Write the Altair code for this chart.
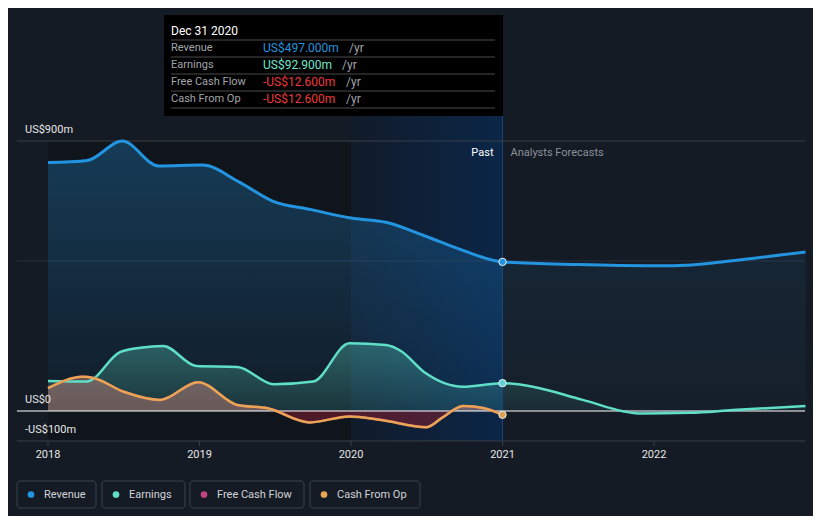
import altair as alt
import pandas as pd

# ---------------- data ----------------
rev_past_t = [2018.0, 2018.26, 2018.49, 2018.73, 2019.02, 2019.26, 2019.49, 2019.73, 2020.0, 2020.23, 2020.48, 2020.73, 2021.0]
rev_past_v = [828, 835, 900, 817, 820, 764, 698, 672, 643, 629, 585, 537, 497]
rev_fc_t = [2021.0, 2021.5, 2022.0, 2022.25, 2022.5, 2023.0]
rev_fc_v = [497, 488, 484, 487, 500, 530]

earn_past_t = [2018.0, 2018.255, 2018.475, 2018.61, 2018.76, 2018.98, 2019.25, 2019.49, 2019.75, 2019.99, 2020.23, 2020.33, 2020.48, 2020.74, 2021.0]
earn_past_v = [100, 98, 196, 211, 217, 150, 147, 89, 98, 226, 220, 200, 131, 81, 92.9]
earn_fc_t = [2021.0, 2021.2, 2021.53, 2021.9, 2022.24, 2022.52, 2023.0]
earn_fc_v = [92.9, 81, 37, -8, -6, 3, 17]

cash_t = [2018.0, 2018.23, 2018.3, 2018.5, 2018.74, 2018.99, 2019.25, 2019.45, 2019.73, 2019.99, 2020.2, 2020.5, 2020.6, 2020.74, 2020.88, 2021.0]
cfo_v = [76, 114, 110, 64, 37, 96, 20, 9, -38, -18, -30, -54, -23, 17, 9, -12.6]
fcf_v = [76, 114, 110, 64, 37, 96, 20, 9, -38, -18, -30, -54, -23, 17, 9, -12.6]

years = [2018, 2019, 2020, 2021, 2022]
y_labels = ["US$900m", "US$0", "-US$100m"]
y_label_vals = [900, 0, -100]

tip_title = "Dec 31 2020"
tip_names = ["Revenue", "Earnings", "Free Cash Flow", "Cash From Op"]
tip_values = ["US$497.000m", "US$92.900m", "-US$12.600m", "-US$12.600m"]
legend_names = ["Revenue", "Earnings", "Free Cash Flow", "Cash From Op"]

# ---------------- styles ----------------
BG = "#151b24"
REV = "#2394df"
EARN = "#5fdfc7"
FCF = "#c4427f"
CFO = "#e8a652"
FONT = "Roboto"

xs = alt.Scale(domain=[2017.736, 2023.0495], nice=False, zero=False)
ys = alt.Scale(domain=[-350, 1343.33], nice=False, zero=False)


def X(f="t"):
    return alt.X(f + ":Q", scale=xs, axis=None)


def Y(f="v"):
    return alt.Y(f + ":Q", scale=ys, axis=None)


def grad(c0, c1):
    return alt.Gradient(gradient="linear",
                        stops=[alt.GradientStop(color=c0, offset=0),
                               alt.GradientStop(color=c1, offset=1)],
                        x1=0, x2=0, y1=0, y2=1)


rev_past = pd.DataFrame({"t": rev_past_t, "v": rev_past_v})
rev_fc = pd.DataFrame({"t": rev_fc_t, "v": rev_fc_v})
rev_all = pd.concat([rev_past, rev_fc.iloc[1:]])
earn_past = pd.DataFrame({"t": earn_past_t, "v": earn_past_v})
earn_fc = pd.DataFrame({"t": earn_fc_t, "v": earn_fc_v})
earn_all = pd.concat([earn_past, earn_fc.iloc[1:]])
cash = pd.DataFrame({"t": cash_t, "cfo": cfo_v, "fcf": fcf_v})

one = pd.DataFrame({"a": [0]})


def band(t0, t1, v0, v1, **mk):
    d = pd.DataFrame({"t": [t0], "t2": [t1], "v": [v0], "v2": [v1]})
    return alt.Chart(d).mark_rect(**mk).encode(x=X(), x2="t2:Q", y=Y(), y2="v2:Q")


dark_band = band(2018, 2020, 900, -100, color="#000000", opacity=0.22)
blue_band = band(2020, 2021, 1320, -100,
                 color=alt.Gradient(gradient="linear",
                                    stops=[alt.GradientStop(color="#111b29", offset=0),
                                           alt.GradientStop(color="#0b2648", offset=1)],
                                    x1=0, x2=1, y1=0, y2=0))

grid_df = pd.DataFrame({"t": [2017.795] * 3, "t2": [2022.997] * 3, "v": [900, 500, -100],
                        "c": ["#3a3f47", "#263040", "#3a3f47"]})
grid = alt.Chart(grid_df).mark_rule(strokeWidth=1).encode(
    x=X(), x2="t2:Q", y=Y(), color=alt.Color("c:N", scale=None, legend=None))

rev_area_p = alt.Chart(rev_past).mark_area(
    interpolate="monotone", color=grad("rgba(35,148,223,0.30)", "rgba(35,148,223,0.06)")).encode(
    x=X(), y=Y())
rev_area_f = alt.Chart(rev_fc).mark_area(
    interpolate="monotone", color=grad("rgba(35,148,223,0.09)", "rgba(35,148,223,0.03)")).encode(
    x=X(), y=Y())
rev_line = alt.Chart(rev_all).mark_line(interpolate="monotone", color=REV, strokeWidth=3).encode(x=X(), y=Y())

earn_area_p = alt.Chart(earn_past).mark_area(
    interpolate="monotone", color=grad("rgba(95,223,199,0.32)", "rgba(95,223,199,0.12)")).encode(
    x=X(), y=Y())
earn_area_f = alt.Chart(earn_fc).mark_area(
    interpolate="monotone", color=grad("rgba(95,223,199,0.14)", "rgba(95,223,199,0.05)")).encode(
    x=X(), y=Y())
earn_line = alt.Chart(earn_all).mark_line(interpolate="monotone", color=EARN, strokeWidth=2.5).encode(x=X(), y=Y())

zoff = max(cfo_v) / (max(cfo_v) - min(cfo_v))
cash_area = alt.Chart(cash).mark_area(
    interpolate="monotone",
    color=alt.Gradient(gradient="linear",
                       stops=[alt.GradientStop(color="rgba(184,126,118,0.5)", offset=0),
                              alt.GradientStop(color="rgba(184,126,118,0.5)", offset=zoff - 0.002),
                              alt.GradientStop(color="rgba(140,30,50,0.5)", offset=zoff + 0.002),
                              alt.GradientStop(color="rgba(140,30,50,0.5)", offset=1)],
                       x1=0, x2=0, y1=0, y2=1)).encode(
    x=X(), y=Y("cfo"))
fcf_line = alt.Chart(cash).mark_line(interpolate="monotone", color=FCF, strokeWidth=2.5).encode(x=X(), y=Y("fcf"))
cfo_line = alt.Chart(cash).mark_line(interpolate="monotone", color=CFO, strokeWidth=2.5).encode(x=X(), y=Y("cfo"))

zero_df = pd.DataFrame({"t": [2017.795], "t2": [2022.997], "v": [0]})
zero_line = alt.Chart(zero_df).mark_rule(color="#ffffff", strokeWidth=1.2).encode(x=X(), x2="t2:Q", y=Y())

now_df = pd.DataFrame({"t": [2021], "v": [-100], "v2": [983]})
now_line = alt.Chart(now_df).mark_rule(color="#1d4677", strokeWidth=1).encode(x=X(), y=Y(), y2="v2:Q")

dots = pd.DataFrame({"t": [2021, 2021, 2021], "v": [rev_past_v[-1], earn_past_v[-1], cfo_v[-1]],
                     "c": [REV, "#5fd3d6", "#e0a24e"]})
dot_layer = alt.Chart(dots).mark_point(filled=True, size=55, stroke="#e8eef5", strokeWidth=1, opacity=1).encode(
    x=X(), y=Y(), fill=alt.Fill("c:N", scale=None, legend=None))

tick_df = pd.DataFrame({"t": years, "v": [-100] * 5, "v2": [-117] * 5, "s": [str(y) for y in years]})
ticks = alt.Chart(tick_df).mark_rule(color="#3a3f47").encode(x=X(), y=Y(), y2="v2:Q")
year_text = alt.Chart(tick_df).mark_text(
    font=FONT, fontSize=11, color="#e6e6e6", baseline="middle", align="center", dy=14).encode(
    x=X(), y=Y(), text="s:N")

ylab = alt.Chart(pd.DataFrame({"v": y_label_vals, "s": y_labels})).mark_text(
    font=FONT, fontSize=11, color="#e6e6e6", baseline="alphabetic", align="left", dy=-8).encode(
    x=alt.value(17), y=Y(), text="s:N")

pf = pd.DataFrame({"t": [2021], "v": [900]})
past_txt = alt.Chart(pf).mark_text(font=FONT, fontSize=11, color="#ffffff", align="right",
                                   baseline="middle", dx=-9, dy=12, text="Past").encode(x=X(), y=Y())
fc_txt = alt.Chart(pf).mark_text(font=FONT, fontSize=11, color="#8b9098", align="left",
                                 baseline="middle", dx=8, dy=12, text="Analysts Forecasts").encode(x=X(), y=Y())

layers = [dark_band, blue_band, grid,
          rev_area_p, rev_area_f, earn_area_p, earn_area_f, cash_area,
          zero_line, rev_line, earn_line, fcf_line, cfo_line,
          now_line, dot_layer, ticks, year_text, ylab, past_txt, fc_txt]

# ---------------- tooltip box (pixel placed) ----------------
layers.append(alt.Chart(one).mark_rect(color="#000000").encode(
    x=alt.value(156), x2=alt.value(495), y=alt.value(7), y2=alt.value(108)))
layers.append(alt.Chart(one).mark_text(font=FONT, fontSize=12, color="#ffffff", align="left",
                                       baseline="middle", text=tip_title).encode(
    x=alt.value(163), y=alt.value(23)))
for sy in [32, 49, 66, 83, 100]:
    layers.append(alt.Chart(one).mark_rule(color="#4a4a4a").encode(
        x=alt.value(163), x2=alt.value(487), y=alt.value(sy)))
tip_colors = [REV, "#6fe6cd", "#f0393c", "#f0393c"]
yr_x = [341, 334, 338, 338]
for i in range(4):
    ry = 40 + 17 * i
    layers.append(alt.Chart(one).mark_text(font=FONT, fontSize=11, color="#a0a4aa", align="left",
                                           baseline="middle", text=tip_names[i]).encode(
        x=alt.value(163), y=alt.value(ry)))
    layers.append(alt.Chart(one).mark_text(font=FONT, fontSize=12, color=tip_colors[i], align="left",
                                           baseline="middle", text=tip_values[i]).encode(
        x=alt.value(255), y=alt.value(ry)))
    layers.append(alt.Chart(one).mark_text(font=FONT, fontSize=12, color="#a0a4aa", align="left",
                                           baseline="middle", text="/yr").encode(
        x=alt.value(yr_x[i]), y=alt.value(ry)))

# ---------------- legend ----------------
leg_x0 = [9, 94, 182, 302]
leg_x1 = [88, 177, 296, 412]
leg_colors = [REV, EARN, FCF, CFO]
for i in range(4):
    layers.append(alt.Chart(one).mark_rect(fill=BG, stroke="#3d434c", strokeWidth=1, cornerRadius=3).encode(
        x=alt.value(leg_x0[i]), x2=alt.value(leg_x1[i]), y=alt.value(473), y2=alt.value(500)))
    layers.append(alt.Chart(one).mark_circle(size=45, opacity=1, color=leg_colors[i]).encode(
        x=alt.value(leg_x0[i] + 14), y=alt.value(486.5)))
    layers.append(alt.Chart(one).mark_text(font=FONT, fontSize=11, color="#d0d3d8", align="left",
                                           baseline="middle", text=legend_names[i]).encode(
        x=alt.value(leg_x0[i] + 27), y=alt.value(486.5)))

chart = alt.layer(*layers).properties(
    width=805, height=508, background=BG, padding=0,
    autosize=alt.AutoSizeParams(type="none"),
).configure_view(stroke=None)

chart.save("out.html", embed_options={"renderer": "svg", "actions": False})
